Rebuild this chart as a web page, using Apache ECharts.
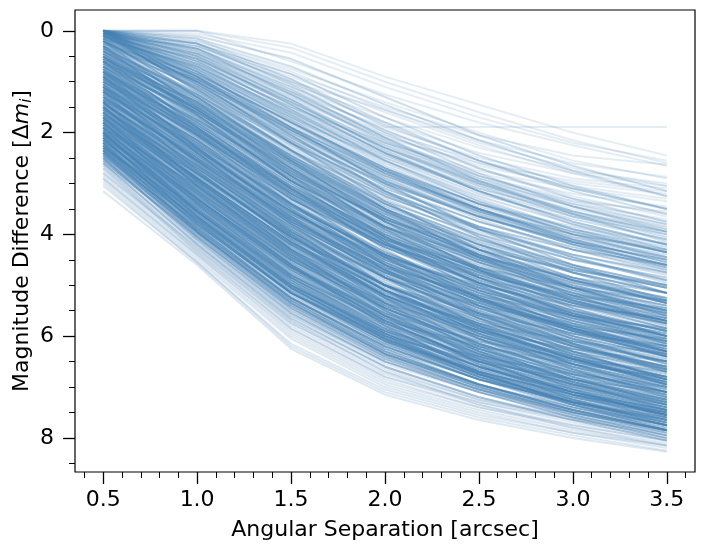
<!DOCTYPE html>
<html>
<head>
<meta charset="utf-8">
<script src="https://cdn.jsdelivr.net/npm/echarts@6/dist/echarts.min.js"></script>
<style>
html,body{margin:0;padding:0;background:#fff;}
#chart{width:705px;height:552px;}
</style>
</head>
<body>
<div id="chart"></div>
<script>
// Angular separation (arcsec) sample points
const separation = [0.5, 1.0, 1.5, 2.0, 2.5, 3.0, 3.5];
const xMajorTicks = [0.5, 1.0, 1.5, 2.0, 2.5, 3.0, 3.5];
const xMinorTicks = [0.4,0.6,0.7,0.8,0.9,1.1,1.2,1.3,1.4,1.6,1.7,1.8,1.9,2.1,2.2,2.3,2.4,2.6,2.7,2.8,2.9,3.1,3.2,3.3,3.4,3.6];
const yMajorTicks = [0, 2, 4, 6, 8];
const yMinorTicks = [0.5,1,1.5,2.5,3,3.5,4.5,5,5.5,6.5,7,7.5,8.5];

// Magnitude difference curves (values at each separation)
const upperCurves = [
[0.00,0.00,0.25,0.90,1.45,2.00,2.45],
[0.00,0.00,0.33,1.00,1.60,2.15,2.60],
[0.00,0.05,0.43,1.10,1.70,2.20,2.55],
[0.00,0.00,0.60,1.25,1.80,2.25,2.65],
[0.00,0.15,0.95,1.89,1.89,1.89,1.89],
[0.00,0.20,0.75,1.40,2.00,2.55,2.90],
[0.00,0.25,0.85,1.50,2.05,2.45,2.63],
[0.00,0.30,1.00,1.55,2.15,2.60,2.87],
[0.00,0.35,1.05,1.70,2.30,2.75,3.00],
[0.00,0.40,1.10,1.80,2.40,2.80,3.05],
[0.05,0.45,1.20,1.90,2.50,2.90,3.10],
[0.00,0.50,1.25,2.00,2.55,3.00,3.20],
[0.00,0.55,1.30,2.05,2.65,3.05,3.30],
[0.05,0.60,1.35,2.10,2.60,2.95,3.15],
[0.10,0.65,1.40,2.20,2.80,3.20,3.45],
[0.00,0.70,1.50,2.25,2.85,3.30,3.60],
[0.10,0.75,1.55,2.30,2.90,3.35,3.55],
[0.00,0.80,1.60,2.35,2.95,3.40,3.70],
[0.15,0.85,1.65,2.40,3.00,3.45,3.80],
[0.05,0.60,1.45,2.30,2.95,3.45,3.85],
[0.00,0.45,1.15,1.95,2.60,3.10,3.50],
[0.00,0.30,0.90,1.60,2.25,2.80,3.25],
[0.10,0.90,1.70,2.45,3.05,3.50,3.85],
[0.00,0.65,1.50,2.20,2.75,3.10,3.35],
[0.20,0.95,1.75,2.50,3.10,3.55,3.90],
[0.00,0.20,0.80,1.55,2.20,2.70,3.05],
[0.05,0.50,1.30,2.15,2.85,3.35,3.75],
[0.00,0.40,1.20,2.05,2.70,3.25,3.65]
];

const fillCurvesA = [
[0.00,0.55,1.40,2.30,3.00,3.55,3.95],
[0.00,0.70,1.60,2.50,3.20,3.70,4.10],
[0.05,0.80,1.70,2.55,3.25,3.80,4.20],
[0.00,0.60,1.55,2.45,3.15,3.65,4.00],
[0.10,0.75,1.65,2.60,3.35,3.90,4.30],
[0.00,0.85,1.80,2.70,3.40,3.90,4.25],
[0.15,0.90,1.85,2.75,3.45,3.95,4.35],
[0.05,0.65,1.50,2.40,3.10,3.60,3.95],
[0.20,0.95,1.90,2.80,3.50,4.05,4.45],
[0.00,0.50,1.35,2.25,3.00,3.60,4.05],
[0.10,0.95,1.95,2.85,3.55,4.05,4.40],
[0.25,1.00,1.95,2.90,3.65,4.20,4.60],
[0.00,0.35,1.10,1.95,2.70,3.30,3.75],
[0.05,0.45,1.25,2.15,2.90,3.45,3.90],
[0.30,1.10,2.10,3.05,3.75,4.30,4.70],
[0.15,0.70,1.60,2.55,3.30,3.90,4.35],
[0.00,0.90,1.90,2.75,3.40,3.85,4.20],
[0.35,1.20,2.20,3.15,3.85,4.40,4.80],
[0.10,0.55,1.45,2.40,3.15,3.75,4.20],
[0.20,1.15,2.15,3.00,3.65,4.15,4.50],
[0.40,1.25,2.30,3.25,3.95,4.50,4.90],
[0.00,0.40,1.20,2.10,2.85,3.40,3.80],
[0.25,0.85,1.80,2.75,3.50,4.10,4.55],
[0.05,1.00,2.00,2.90,3.55,4.00,4.30],
[0.45,1.30,2.35,3.30,4.05,4.60,5.00],
[0.30,0.95,1.95,2.95,3.70,4.30,4.75],
[0.15,1.05,2.05,2.95,3.60,4.10,4.45],
[0.50,1.40,2.45,3.40,4.10,4.65,5.05],
[0.00,0.25,0.95,1.80,2.55,3.15,3.60],
[0.10,0.30,1.00,1.85,2.55,3.10,3.50],
[0.00,0.35,1.25,2.20,2.95,3.55,4.00],
[0.00,0.50,1.45,2.40,3.15,3.75,4.20],
[0.05,0.65,1.65,2.65,3.40,4.00,4.45],
[0.00,0.45,1.35,2.35,3.15,3.80,4.30],
[0.10,0.80,1.80,2.80,3.60,4.20,4.70],
[0.00,0.60,1.55,2.55,3.35,4.00,4.50],
[0.15,0.70,1.70,2.70,3.50,4.15,4.65],
[0.00,0.25,1.05,2.00,2.80,3.45,3.95],
[0.05,0.35,1.15,2.10,2.95,3.60,4.15],
[0.20,1.00,2.05,3.05,3.85,4.45,4.95],
[0.25,1.10,2.20,3.20,4.00,4.65,5.15],
[0.10,0.55,1.40,2.30,3.05,3.65,4.10],
[0.00,0.15,0.70,1.45,2.15,2.75,3.25],
[0.00,0.10,0.55,1.30,2.05,2.65,3.15],
[0.05,0.25,0.85,1.70,2.45,3.05,3.50]
];

const coreCurvesBright = [
[0.00,0.95,1.95,2.85,3.50,4.00,4.35],
[0.00,1.05,2.10,3.00,3.65,4.15,4.50],
[0.05,0.85,1.80,2.70,3.40,3.95,4.35],
[0.10,1.10,2.20,3.10,3.75,4.25,4.65],
[0.00,1.20,2.35,3.25,3.90,4.40,4.75],
[0.15,1.00,2.00,2.95,3.65,4.20,4.60],
[0.20,1.25,2.40,3.35,4.00,4.50,4.85],
[0.05,1.15,2.25,3.20,3.85,4.30,4.60],
[0.25,1.30,2.45,3.40,4.10,4.60,5.00],
[0.10,0.90,1.90,2.80,3.50,4.10,4.55],
[0.30,1.35,2.50,3.45,4.15,4.65,5.05],
[0.00,0.75,1.75,2.75,3.55,4.15,4.60],
[0.20,1.05,2.15,3.15,3.90,4.45,4.90],
[0.35,1.40,2.55,3.50,4.20,4.75,5.15],
[0.15,1.30,2.50,3.50,4.20,4.70,5.05],
[0.40,1.50,2.65,3.60,4.30,4.85,5.25],
[0.45,1.45,2.55,3.55,4.30,4.90,5.35],
[0.50,1.60,2.75,3.70,4.40,4.95,5.35],
[0.55,1.55,2.70,3.75,4.50,5.05,5.50],
[0.60,1.70,2.85,3.80,4.50,5.00,5.40],
[0.40,1.35,2.45,3.50,4.30,4.90,5.35],
[0.65,1.80,2.95,3.90,4.60,5.15,5.55],
[0.70,1.75,2.90,3.95,4.70,5.30,5.75],
[0.50,1.70,2.95,3.95,4.65,5.15,5.50],
[0.75,1.90,3.05,4.00,4.70,5.25,5.65],
[0.60,1.55,2.65,3.70,4.50,5.15,5.65],
[0.80,1.95,3.10,4.05,4.75,5.30,5.70],
[0.45,1.65,2.85,3.85,4.55,5.05,5.40],
[0.70,1.95,3.15,4.10,4.75,5.25,5.60],
[0.55,1.40,2.50,3.55,4.40,5.05,5.55],
[0.80,1.85,3.00,4.05,4.85,5.45,5.90],
[0.65,1.60,2.75,3.85,4.65,5.30,5.80],
[0.75,2.05,3.25,4.20,4.85,5.35,5.70]
];

const fillCurvesB = [
[0.30,1.45,2.60,3.55,4.25,4.75,5.15],
[0.35,1.25,2.35,3.40,4.20,4.85,5.35],
[0.40,1.60,2.80,3.75,4.45,4.95,5.30],
[0.50,1.45,2.55,3.60,4.40,5.00,5.45],
[0.55,1.75,2.90,3.85,4.55,5.10,5.50],
[0.60,1.85,3.05,4.00,4.70,5.20,5.55],
[0.65,1.65,2.80,3.85,4.65,5.25,5.70],
[0.70,1.90,3.10,4.05,4.75,5.30,5.70],
[0.75,1.80,2.95,4.00,4.80,5.40,5.85],
[0.80,2.05,3.25,4.20,4.90,5.40,5.75],
[0.85,2.10,3.30,4.25,4.95,5.50,5.90],
[0.90,1.95,3.10,4.15,4.95,5.55,6.00],
[0.95,2.20,3.45,4.40,5.10,5.60,5.95],
[1.00,2.30,3.50,4.45,5.15,5.70,6.10],
[1.05,2.15,3.35,4.40,5.20,5.80,6.25],
[1.10,2.40,3.60,4.55,5.25,5.75,6.15],
[1.15,2.45,3.70,4.65,5.35,5.90,6.30],
[1.20,2.25,3.40,4.45,5.25,5.90,6.40],
[1.25,2.55,3.80,4.75,5.45,5.95,6.35],
[1.30,2.65,3.90,4.85,5.55,6.05,6.45],
[1.35,2.45,3.65,4.70,5.50,6.15,6.65],
[1.40,2.65,3.85,4.85,5.60,6.15,6.60],
[1.45,2.80,4.05,5.00,5.70,6.20,6.60],
[1.50,2.70,3.95,5.00,5.75,6.35,6.80],
[1.55,2.90,4.15,5.10,5.80,6.35,6.75],
[1.60,2.80,4.05,5.10,5.85,6.45,6.90],
[0.60,1.50,2.60,3.65,4.45,5.05,5.50],
[0.80,1.75,2.85,3.90,4.70,5.35,5.85],
[1.00,2.00,3.15,4.20,5.00,5.65,6.15],
[1.20,2.55,3.80,4.75,5.40,5.90,6.25],
[0.45,1.55,2.70,3.65,4.35,4.90,5.30],
[0.70,1.60,2.70,3.75,4.55,5.20,5.70],
[0.90,2.25,3.45,4.40,5.05,5.55,5.90],
[1.10,2.20,3.40,4.45,5.25,5.85,6.35],
[1.30,2.50,3.70,4.70,5.45,6.05,6.50],
[1.50,2.90,4.15,5.10,5.75,6.25,6.60],
[0.35,1.55,2.75,3.70,4.40,4.90,5.25],
[0.55,1.50,2.60,3.65,4.45,5.10,5.60],
[0.75,2.00,3.20,4.15,4.85,5.35,5.70],
[0.95,1.95,3.10,4.15,4.95,5.60,6.10],
[1.15,2.35,3.55,4.55,5.30,5.85,6.30],
[1.35,2.70,3.95,4.90,5.60,6.10,6.50],
[1.55,2.75,4.00,5.05,5.85,6.45,6.95],
[1.05,2.35,3.60,4.60,5.30,5.80,6.20],
[0.85,1.85,3.00,4.05,4.85,5.50,6.00]
];

const coreCurvesMid = [
[0.85,2.00,3.15,4.10,4.80,5.35,5.75],
[0.90,2.10,3.30,4.25,4.95,5.50,5.90],
[0.95,2.05,3.20,4.20,4.95,5.55,6.00],
[1.00,2.20,3.40,4.35,5.05,5.60,6.00],
[0.85,1.90,3.05,4.10,4.90,5.55,6.05],
[1.05,2.25,3.45,4.40,5.10,5.65,6.05],
[1.10,2.35,3.55,4.50,5.20,5.70,6.10],
[0.90,2.15,3.40,4.40,5.10,5.60,5.95],
[1.15,2.30,3.50,4.50,5.25,5.85,6.30],
[1.20,2.45,3.65,4.60,5.30,5.85,6.25],
[1.00,2.05,3.20,4.25,5.05,5.70,6.20],
[1.25,2.50,3.70,4.65,5.35,5.90,6.30],
[1.05,2.40,3.65,4.60,5.25,5.75,6.10],
[1.30,2.55,3.75,4.70,5.40,5.95,6.35],
[1.10,2.15,3.30,4.35,5.15,5.80,6.30],
[1.20,2.35,3.55,4.55,5.30,5.90,6.40],
[0.95,2.30,3.55,4.50,5.15,5.65,6.00],
[1.25,2.60,3.85,4.80,5.50,6.00,6.40],
[1.15,2.50,3.75,4.70,5.35,5.85,6.20],
[1.30,2.40,3.55,4.60,5.40,6.05,6.55],
[1.35,2.60,3.80,4.75,5.45,6.00,6.40],
[1.40,2.70,3.90,4.85,5.55,6.10,6.50],
[1.45,2.65,3.85,4.85,5.60,6.20,6.65],
[1.50,2.80,4.00,4.95,5.65,6.20,6.60],
[1.35,2.50,3.70,4.75,5.55,6.20,6.70],
[1.55,2.85,4.05,5.00,5.70,6.25,6.65],
[1.60,2.90,4.15,5.10,5.80,6.30,6.70],
[1.40,2.80,4.05,5.00,5.65,6.15,6.50],
[1.65,2.95,4.20,5.15,5.85,6.40,6.80],
[1.70,3.00,4.25,5.20,5.90,6.45,6.85],
[1.45,2.55,3.75,4.80,5.65,6.30,6.85],
[1.75,3.10,4.35,5.30,6.00,6.50,6.90],
[1.50,2.95,4.20,5.15,5.80,6.30,6.65],
[1.80,3.15,4.40,5.35,6.05,6.60,7.00],
[1.55,2.70,3.95,5.00,5.80,6.45,6.95],
[1.60,3.05,4.30,5.25,5.95,6.45,6.85],
[1.65,2.80,4.05,5.10,5.90,6.55,7.05],
[1.70,3.15,4.40,5.35,6.00,6.50,6.85],
[1.75,2.95,4.20,5.25,6.05,6.65,7.15],
[1.80,3.20,4.50,5.45,6.15,6.70,7.10],
[1.40,2.75,4.00,5.00,5.75,6.35,6.80],
[1.50,2.85,4.10,5.10,5.85,6.40,6.85]
];

const crossCurves = [
[0.20,1.50,2.80,3.70,4.30,4.70,5.00],
[0.50,1.90,3.20,4.10,4.65,5.05,5.30],
[0.80,2.30,3.60,4.45,5.00,5.40,5.65],
[1.10,2.60,3.95,4.85,5.40,5.80,6.05],
[1.40,2.95,4.30,5.20,5.75,6.10,6.35],
[1.70,3.30,4.65,5.55,6.10,6.45,6.70],
[2.00,3.60,5.00,5.90,6.40,6.75,7.00],
[0.30,1.65,2.95,3.85,4.45,4.85,5.15],
[0.60,2.00,3.30,4.20,4.80,5.20,5.45],
[0.90,2.40,3.75,4.65,5.20,5.60,5.85],
[1.20,2.75,4.10,5.00,5.55,5.95,6.20],
[1.50,3.05,4.45,5.35,5.90,6.25,6.50],
[1.80,3.40,4.80,5.70,6.20,6.55,6.80],
[2.10,3.75,5.15,6.00,6.50,6.85,7.10],
[0.00,0.80,1.90,3.00,3.90,4.60,5.15],
[0.10,1.00,2.20,3.35,4.30,5.05,5.60],
[0.30,1.30,2.55,3.75,4.70,5.45,6.00],
[0.50,1.55,2.85,4.05,5.00,5.75,6.30],
[0.70,1.80,3.10,4.30,5.25,6.00,6.55],
[0.90,2.05,3.40,4.60,5.55,6.30,6.85],
[1.10,2.30,3.65,4.85,5.80,6.55,7.10],
[1.30,2.55,3.90,5.10,6.05,6.80,7.35],
[1.50,2.75,4.10,5.35,6.30,7.05,7.60],
[1.70,3.00,4.40,5.60,6.55,7.25,7.75],
[0.05,0.90,2.05,3.15,4.05,4.75,5.30],
[0.20,1.15,2.35,3.50,4.45,5.20,5.75],
[0.40,1.40,2.70,3.90,4.85,5.60,6.15],
[0.60,1.65,2.95,4.15,5.10,5.85,6.40],
[0.80,1.90,3.25,4.45,5.40,6.15,6.70],
[1.00,2.15,3.50,4.70,5.65,6.40,6.95],
[1.20,2.40,3.80,5.00,5.95,6.65,7.20],
[1.40,2.65,4.00,5.25,6.20,6.90,7.45],
[1.60,2.90,4.30,5.50,6.45,7.15,7.65],
[1.90,3.20,4.60,5.80,6.70,7.35,7.85]
];

const fillCurvesC = [
[1.60,2.95,4.20,5.20,5.90,6.45,6.90],
[1.65,3.05,4.30,5.25,5.95,6.50,6.90],
[1.70,2.90,4.15,5.20,6.00,6.60,7.10],
[1.75,3.15,4.45,5.40,6.10,6.60,7.00],
[1.80,3.00,4.30,5.35,6.15,6.75,7.20],
[1.85,3.30,4.55,5.50,6.20,6.70,7.10],
[1.90,3.15,4.45,5.50,6.30,6.90,7.35],
[1.95,3.40,4.70,5.65,6.35,6.85,7.25],
[2.00,3.25,4.55,5.60,6.40,7.00,7.45],
[2.05,3.45,4.75,5.75,6.45,6.95,7.35],
[2.10,3.40,4.70,5.75,6.55,7.10,7.55],
[2.15,3.65,5.00,5.95,6.60,7.10,7.45],
[2.20,3.50,4.85,5.90,6.65,7.20,7.60],
[2.25,3.70,5.05,6.00,6.70,7.20,7.55],
[2.30,3.65,5.00,6.00,6.75,7.30,7.70],
[2.35,3.80,5.15,6.10,6.80,7.30,7.65],
[2.40,3.75,5.10,6.10,6.80,7.35,7.75],
[2.45,3.95,5.35,6.30,6.95,7.40,7.75],
[2.50,3.95,5.35,6.35,7.00,7.50,7.85],
[2.55,4.05,5.50,6.45,7.05,7.50,7.85],
[1.65,2.90,4.15,5.20,5.95,6.55,7.00],
[1.75,3.20,4.45,5.40,6.05,6.55,6.95],
[1.85,3.05,4.35,5.40,6.20,6.80,7.25],
[1.95,3.30,4.60,5.60,6.35,6.90,7.30],
[2.05,3.55,4.85,5.80,6.45,6.95,7.30],
[2.15,3.50,4.85,5.85,6.60,7.15,7.55],
[2.25,3.80,5.15,6.05,6.70,7.15,7.50],
[2.35,3.70,5.05,6.05,6.80,7.35,7.75],
[2.45,3.85,5.25,6.25,6.95,7.45,7.85],
[1.70,3.10,4.35,5.30,6.00,6.55,6.95],
[1.80,3.25,4.50,5.45,6.15,6.65,7.05],
[1.90,3.05,4.35,5.45,6.25,6.85,7.30],
[2.00,3.50,4.80,5.75,6.40,6.90,7.25],
[2.10,3.35,4.65,5.70,6.50,7.10,7.55],
[2.20,3.70,5.05,6.00,6.65,7.10,7.45],
[2.30,3.55,4.90,5.95,6.75,7.30,7.75],
[2.40,3.90,5.25,6.20,6.85,7.30,7.65],
[1.60,3.00,4.25,5.20,5.90,6.40,6.80],
[2.05,3.30,4.60,5.70,6.50,7.05,7.50],
[2.15,3.55,4.90,5.90,6.60,7.10,7.50],
[2.20,3.85,5.25,6.20,6.85,7.35,7.75],
[2.35,4.00,5.40,6.35,6.95,7.45,7.85],
[2.50,4.10,5.55,6.50,7.10,7.60,8.00],
[2.30,3.90,5.30,6.30,6.95,7.45,7.85],
[2.40,4.05,5.45,6.40,7.05,7.55,7.95],
[2.10,3.75,5.15,6.15,6.85,7.40,7.80],
[2.00,3.65,5.05,6.05,6.75,7.30,7.70],
[1.90,3.55,4.95,5.95,6.70,7.25,7.70],
[2.60,4.20,5.65,6.60,7.20,7.65,8.05],
[2.25,3.95,5.35,6.35,7.00,7.50,7.90]
];

const coreCurvesFaint = [
[1.85,3.25,4.50,5.45,6.15,6.70,7.10],
[1.90,3.30,4.60,5.55,6.25,6.75,7.15],
[1.95,3.35,4.65,5.60,6.30,6.85,7.25],
[2.00,3.45,4.75,5.70,6.35,6.85,7.20],
[1.85,3.10,4.40,5.45,6.25,6.85,7.30],
[2.05,3.50,4.80,5.75,6.45,6.95,7.35],
[2.10,3.55,4.85,5.80,6.50,7.00,7.40],
[1.90,3.40,4.70,5.65,6.30,6.80,7.15],
[2.15,3.60,4.95,5.90,6.55,7.05,7.45],
[2.20,3.65,5.00,5.95,6.60,7.10,7.45],
[1.95,3.20,4.50,5.55,6.35,6.95,7.40],
[2.25,3.75,5.10,6.05,6.70,7.15,7.50],
[2.00,3.55,4.90,5.85,6.50,7.00,7.35],
[2.30,3.80,5.15,6.10,6.75,7.20,7.55],
[2.05,3.35,4.65,5.70,6.50,7.10,7.55],
[2.10,3.65,5.00,5.95,6.60,7.05,7.40],
[2.35,3.85,5.20,6.15,6.80,7.25,7.60],
[2.15,3.45,4.80,5.85,6.60,7.15,7.55],
[2.40,3.90,5.25,6.20,6.85,7.30,7.65],
[2.20,3.80,5.15,6.10,6.70,7.15,7.50],
[2.25,3.60,4.95,6.00,6.75,7.30,7.70],
[2.30,3.70,5.05,6.05,6.75,7.25,7.65],
[2.35,3.95,5.30,6.25,6.85,7.30,7.60],
[1.80,3.35,4.65,5.60,6.25,6.75,7.10],
[2.00,3.30,4.60,5.65,6.40,6.95,7.40]
];

const lowerCurves = [
[2.45,4.00,5.40,6.35,6.95,7.40,7.75],
[2.50,4.05,5.45,6.40,7.00,7.45,7.80],
[2.55,4.10,5.55,6.50,7.10,7.50,7.85],
[2.60,4.15,5.60,6.55,7.10,7.55,7.90],
[2.45,3.90,5.30,6.30,6.95,7.45,7.85],
[2.65,4.20,5.70,6.60,7.20,7.60,7.95],
[2.70,4.25,5.75,6.65,7.25,7.65,7.95],
[2.50,4.15,5.60,6.50,7.05,7.45,7.75],
[2.75,4.30,5.80,6.75,7.30,7.70,8.00],
[2.80,4.35,5.85,6.80,7.35,7.75,8.05],
[2.60,4.00,5.45,6.45,7.10,7.60,8.00],
[2.85,4.40,5.95,6.90,7.40,7.80,8.10],
[2.90,4.45,6.00,6.95,7.45,7.85,8.15],
[2.70,4.35,5.85,6.80,7.30,7.65,7.90],
[2.95,4.50,6.05,7.00,7.50,7.90,8.20],
[3.00,4.55,6.15,7.05,7.55,7.90,8.15],
[3.05,4.55,6.20,7.10,7.60,7.95,8.25],
[3.15,4.60,6.25,7.15,7.65,8.00,8.27],
[2.80,4.25,5.70,6.70,7.35,7.80,8.15],
[2.55,3.95,5.40,6.40,7.05,7.55,7.95],
[2.90,4.40,5.90,6.85,7.40,7.75,8.05],
[2.65,4.30,5.75,6.70,7.25,7.60,7.85]
];

const FONT = 'DejaVu Sans';
const LINE_COLOR = '#4682b4';

function makeSeries(curves, opacity) {
  return curves.map(c => ({
    type: 'line',
    data: separation.map((x, i) => [x, c[i]]),
    showSymbol: false,
    silent: true,
    animation: false,
    lineStyle: { color: LINE_COLOR, width: 2, opacity: opacity },
    emphasis: { disabled: true }
  }));
}

const series = [].concat(
  makeSeries(upperCurves, 0.14),
  makeSeries(fillCurvesA, 0.26),
  makeSeries(coreCurvesBright, 0.4),
  makeSeries(fillCurvesB, 0.4),
  makeSeries(coreCurvesMid, 0.4),
  makeSeries(crossCurves, 0.4),
  makeSeries(fillCurvesC, 0.4),
  makeSeries(coreCurvesFaint, 0.4),
  makeSeries(lowerCurves, 0.18)
);

const chart = echarts.init(document.getElementById('chart'), null, { renderer: 'canvas' });
const xMin = 0.35, xMax = 3.65, yMin = -0.41, yMax = 8.67;
chart.setOption({
  animation: false,
  backgroundColor: '#fff',
  grid: { left: 75, right: 10, top: 10, bottom: 80, containLabel: false, outerBoundsMode: 'none', show: true, borderColor: '#000', borderWidth: 1.2, backgroundColor: 'transparent' },
  xAxis: [
    {
      type: 'value', min: xMin, max: xMax, position: 'bottom',
      name: 'Angular Separation [arcsec]', nameLocation: 'middle', nameGap: 47, nameMoveOverlap: false,
      nameTextStyle: { fontFamily: FONT, fontSize: 22, color: '#000' },
      axisLine: { show: false, onZero: false },
      axisTick: { show: true, length: 12, customValues: xMajorTicks, lineStyle: { color: '#000', width: 1.3 } },
      axisLabel: { show: true, customValues: xMajorTicks, margin: 17, fontFamily: FONT, fontSize: 22, color: '#000', formatter: v => v.toFixed(1) },
      splitLine: { show: false }
    },
    {
      type: 'value', min: xMin, max: xMax, position: 'bottom', offset: 0,
      axisLine: { show: false, onZero: false },
      axisTick: { show: true, length: 6, customValues: xMinorTicks, lineStyle: { color: '#000', width: 1 } },
      axisLabel: { show: false },
      splitLine: { show: false }
    }
  ],
  yAxis: [
    {
      type: 'value', inverse: true, min: yMin, max: yMax, position: 'left',
      name: 'Magnitude Difference [Δ{m|m}{s|i}]', nameLocation: 'middle', nameGap: 40, nameRotate: 90, nameMoveOverlap: false,
      nameTextStyle: {
        fontFamily: FONT, fontSize: 22, color: '#000', lineHeight: 26,
        rich: {
          m: { fontFamily: FONT, fontSize: 22, fontStyle: 'italic', color: '#000', lineHeight: 26 },
          s: { fontFamily: FONT, fontSize: 15, fontStyle: 'italic', color: '#000', verticalAlign: 'bottom', lineHeight: 10 }
        }
      },
      axisLine: { show: false, onZero: false },
      axisTick: { show: true, length: 12, customValues: yMajorTicks, lineStyle: { color: '#000', width: 1.3 } },
      axisLabel: { show: true, customValues: yMajorTicks, margin: 21, fontFamily: FONT, fontSize: 22, color: '#000' },
      splitLine: { show: false }
    },
    {
      type: 'value', inverse: true, min: yMin, max: yMax, position: 'left', offset: 0,
      axisLine: { show: false, onZero: false },
      axisTick: { show: true, length: 6, customValues: yMinorTicks, lineStyle: { color: '#000', width: 1 } },
      axisLabel: { show: false },
      splitLine: { show: false }
    }
  ],
  series: series
});
</script>
</body>
</html>
